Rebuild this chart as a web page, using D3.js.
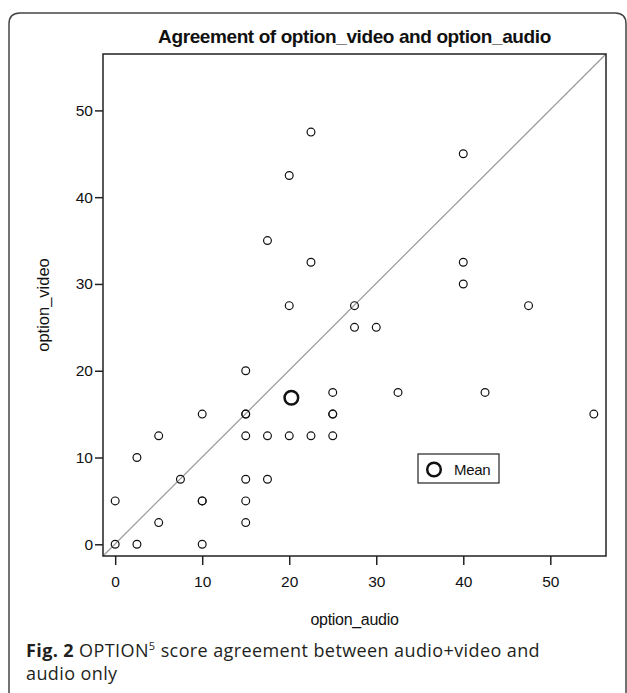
<!DOCTYPE html>
<html>
<head>
<meta charset="utf-8">
<script src="https://cdn.jsdelivr.net/npm/d3@7"></script>
<style>
  body { margin: 0; background: #fff; }
</style>
</head>
<body>
<div id="chart"></div>
<script>
// scores (duplicates = overlapping, bolder circles)
const audioScores = [0, 0, 2.5, 2.5, 5, 5, 7.5, 10, 10, 10, 10, 15, 15, 15, 15, 15, 15, 15,
  17.5, 17.5, 17.5, 20, 20, 20, 22.5, 22.5, 22.5, 25, 25, 25, 25, 27.5, 27.5, 30, 32.5,
  40, 40, 40, 42.5, 47.5, 55];
const videoScores = [0, 5, 0, 10, 12.5, 2.5, 7.5, 5, 5, 0, 15, 20, 15, 15, 12.5, 7.5, 5, 2.5,
  12.5, 7.5, 35, 12.5, 27.5, 42.5, 12.5, 32.5, 47.5, 12.5, 15, 15, 17.5, 27.5, 25, 25, 17.5,
  45, 32.5, 30, 17.5, 27.5, 15];
const xTicks = [0, 10, 20, 30, 40, 50];
const yTicks = [0, 10, 20, 30, 40, 50];

const width = 627;
const height = 693;
const plot = { left: 103, top: 54, right: 606, bottom: 556 };
const font = "'Liberation Sans', Arial, sans-serif";

const svg = d3.select("#chart")
  .append("svg")
  .attr("width", width)
  .attr("height", height);

// outer figure frame, rounded at the top, open at the bottom
svg.append("path")
  .attr("d", "M9,700 L9,24 Q9,13 20,13 L615,13 Q626,13 626,24 L626,700")
  .attr("fill", "none")
  .attr("stroke", "#444")
  .attr("stroke-width", 1.5);

const x = d3.scaleLinear().domain([-1.4, 56.4]).range([plot.left, plot.right]);
const y = d3.scaleLinear().domain([-1.35, 56.5]).range([plot.bottom, plot.top]);

// title
svg.append("text")
  .attr("x", (plot.left + plot.right) / 2)
  .attr("y", 43)
  .attr("text-anchor", "middle")
  .style("font-family", font)
  .style("font-size", "19px")
  .style("font-weight", "bold")
  .style("letter-spacing", "-0.4px")
  .attr("fill", "#111")
  .text("Agreement of option_video and option_audio");

// diagonal line of agreement
svg.append("line")
  .attr("x1", x(-1.4)).attr("y1", y(-1.35))
  .attr("x2", x(56.4)).attr("y2", y(56.5))
  .attr("stroke", "#999")
  .attr("stroke-width", 1.2);

// axes
const xAxis = svg.append("g")
  .attr("transform", `translate(0, ${plot.bottom})`)
  .call(d3.axisBottom(x).tickValues(xTicks).tickSize(9).tickPadding(11));
const yAxis = svg.append("g")
  .attr("transform", `translate(${plot.left}, 0)`)
  .call(d3.axisLeft(y).tickValues(yTicks).tickSize(8).tickPadding(2));

[xAxis, yAxis].forEach(function(ax) {
  ax.select(".domain").remove();
  ax.selectAll("line").attr("stroke", "#222").attr("stroke-width", 1.5);
  ax.selectAll("text")
    .style("font-family", font)
    .style("font-size", "15.5px")
    .attr("fill", "#111");
});

// plot frame
svg.append("rect")
  .attr("x", plot.left).attr("y", plot.top)
  .attr("width", plot.right - plot.left)
  .attr("height", plot.bottom - plot.top)
  .attr("fill", "none")
  .attr("stroke", "#222")
  .attr("stroke-width", 1.5);

// points
const points = audioScores.map(function(a, i) { return { a: a, v: videoScores[i] }; });
svg.append("g")
  .selectAll("circle")
  .data(points)
  .join("circle")
  .attr("cx", function(d) { return x(d.a); })
  .attr("cy", function(d) { return y(d.v); })
  .attr("r", 3.9)
  .attr("fill", "none")
  .attr("stroke", "#111")
  .attr("stroke-width", 1.2);

// mean marker
const meanA = d3.mean(audioScores);
const meanV = d3.mean(videoScores);
svg.append("circle")
  .attr("cx", x(meanA))
  .attr("cy", y(meanV))
  .attr("r", 6.8)
  .attr("fill", "none")
  .attr("stroke", "#111")
  .attr("stroke-width", 2.5);

// legend
const legend = svg.append("g").attr("transform", "translate(418, 454)");
legend.append("rect")
  .attr("width", 81).attr("height", 29)
  .attr("fill", "#fff")
  .attr("stroke", "#222")
  .attr("stroke-width", 1.2);
legend.append("circle")
  .attr("cx", 16).attr("cy", 15.5).attr("r", 6.8)
  .attr("fill", "none").attr("stroke", "#111").attr("stroke-width", 2.5);
legend.append("text")
  .attr("x", 36).attr("y", 21)
  .style("font-family", font)
  .style("font-size", "15px")
  .style("letter-spacing", "-0.3px")
  .attr("fill", "#111")
  .text("Mean");

// axis titles
svg.append("text")
  .attr("x", (plot.left + plot.right) / 2)
  .attr("y", 625)
  .attr("text-anchor", "middle")
  .style("font-family", font)
  .style("font-size", "16px")
  .style("letter-spacing", "-0.3px")
  .attr("fill", "#111")
  .text("option_audio");
svg.append("text")
  .attr("transform", `translate(49, ${(plot.top + plot.bottom) / 2}) rotate(-90)`)
  .attr("text-anchor", "middle")
  .style("font-family", font)
  .style("font-size", "16.5px")
  .attr("fill", "#111")
  .text("option_video");

// caption
const capFont = "'Open Sans', 'Noto Sans', sans-serif";
const cap = svg.append("text")
  .attr("x", 26).attr("y", 657)
  .style("font-family", capFont)
  .style("font-size", "18px")
  .style("letter-spacing", "0.4px")
  .attr("fill", "#231f20");
cap.append("tspan").style("font-weight", "bold").text("Fig. 2");
cap.append("tspan").text(" OPTION");
cap.append("tspan").attr("dy", -7).style("font-size", "11px").text("5");
cap.append("tspan").attr("dy", 7).text(" score agreement between audio+video and");
svg.append("text")
  .attr("x", 26).attr("y", 680)
  .style("font-family", capFont)
  .style("font-size", "18px")
  .style("letter-spacing", "0.4px")
  .attr("fill", "#231f20")
  .text("audio only");
</script>
</body>
</html>
